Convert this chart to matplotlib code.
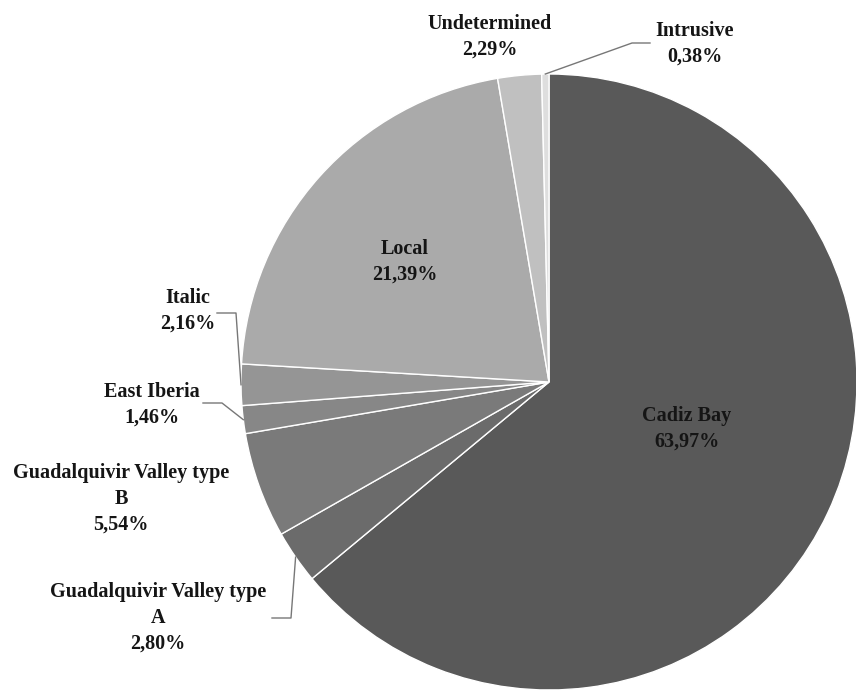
import matplotlib
matplotlib.use("Agg")
import matplotlib.pyplot as plt
import numpy as np

# --- DATA ---
labels = ['Cadiz Bay', 'Guadalquivir Valley type\nA', 'Guadalquivir Valley type\nB',
          'East Iberia', 'Italic', 'Local', 'Undetermined', 'Intrusive']
values = [63.97, 2.80, 5.54, 1.46, 2.16, 21.39, 2.29, 0.38]
pct_text = ['63,97%', '2,80%', '5,54%', '1,46%', '2,16%', '21,39%', '2,29%', '0,38%']
colors = ['#595959', '#6b6b6b', '#7a7a7a', '#878787', '#959595', '#aaaaaa', '#c0c0c0', '#dedede']

W, H = 856, 695
fig = plt.figure(figsize=(W / 100, H / 100), dpi=100)
ax = fig.add_axes([0, 0, 1, 1])

cx, cy, r = 549, H - 382, 308
wedges, _ = ax.pie(values, colors=colors, startangle=90, counterclock=False,
                   center=(cx, cy), radius=r, frame=True,
                   wedgeprops={'edgecolor': 'white', 'linewidth': 1})
ax.set_xlim(0, W)
ax.set_ylim(0, H)
ax.set_aspect('equal')
ax.axis('off')

# label positions in pixel coords (x, y from top) and leader line elbows
label_pos = [(687, 429), (158, 618), (121, 499), (152, 405), (188, 311),
             (405, 262), (490, 37), (695, 44)]
leaders = {1: [(272, 618), (291, 618)],
           3: [(203, 403), (222, 403)],
           4: [(217, 313), (236, 313)],
           7: [(650, 43), (632, 43)]}

font = dict(family='Liberation Serif', fontweight='bold', fontsize=14.5,
            color='#151515', ha='center', va='center', linespacing=1.4)

for i, (lab, p) in enumerate(zip(labels, pct_text)):
    x, y = label_pos[i]
    ax.text(x, H - y, lab + '\n' + p, **font)
    if i in leaders:
        w = wedges[i]
        mid = np.deg2rad((w.theta1 + w.theta2) / 2)
        ex, ey = cx + r * np.cos(mid), cy + r * np.sin(mid)
        pts = [(px, H - py) for px, py in leaders[i]] + [(ex, ey)]
        xs, ys = zip(*pts)
        ax.plot(xs, ys, color='#777777', lw=1)

fig.savefig('out.png', dpi=100)
